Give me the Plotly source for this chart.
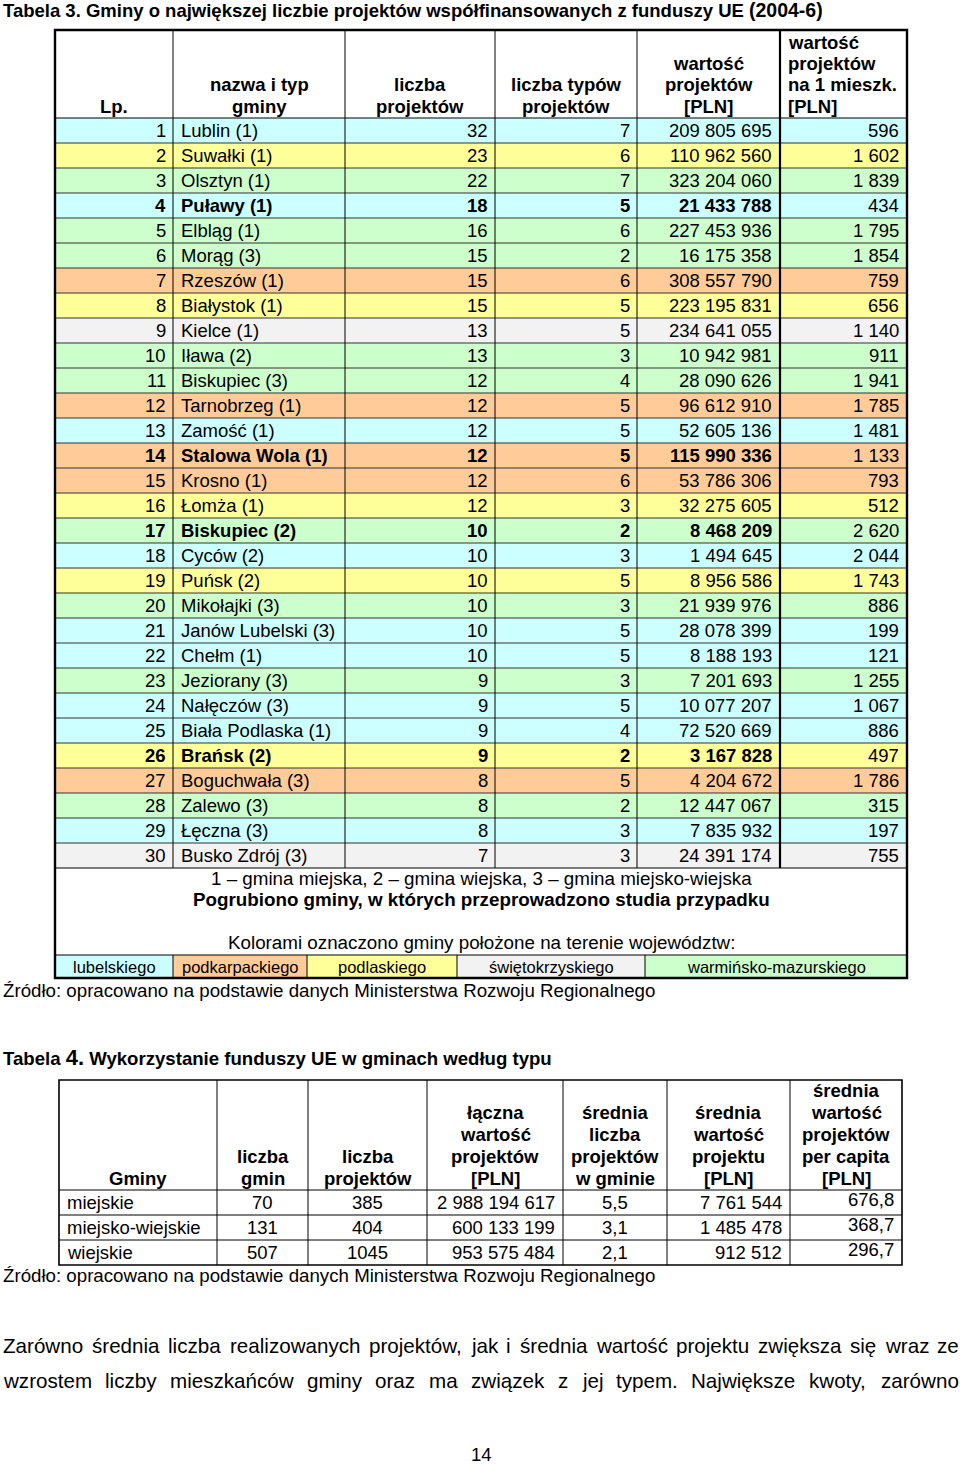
import plotly.graph_objects as go

# ======================= DATA: Tabela 3 =======================
lp = [1, 2, 3, 4, 5, 6, 7, 8, 9, 10, 11, 12, 13, 14, 15,
      16, 17, 18, 19, 20, 21, 22, 23, 24, 25, 26, 27, 28, 29, 30]
names = ["Lublin (1)", "Suwałki (1)", "Olsztyn (1)", "Puławy (1)", "Elbląg (1)",
         "Morąg (3)", "Rzeszów (1)", "Białystok (1)", "Kielce (1)", "Iława (2)",
         "Biskupiec (3)", "Tarnobrzeg (1)", "Zamość (1)", "Stalowa Wola (1)", "Krosno (1)",
         "Łomża (1)", "Biskupiec (2)", "Cyców (2)", "Puńsk (2)", "Mikołajki (3)",
         "Janów Lubelski (3)", "Chełm (1)", "Jeziorany (3)", "Nałęczów (3)", "Biała Podlaska (1)",
         "Brańsk (2)", "Boguchwała (3)", "Zalewo (3)", "Łęczna (3)", "Busko Zdrój (3)"]
n_projects = [32, 23, 22, 18, 16, 15, 15, 15, 13, 13, 12, 12, 12, 12, 12,
              12, 10, 10, 10, 10, 10, 10, 9, 9, 9, 9, 8, 8, 8, 7]
n_types = [7, 6, 7, 5, 6, 2, 6, 5, 5, 3, 4, 5, 5, 5, 6,
           3, 2, 3, 5, 3, 5, 5, 3, 5, 4, 2, 5, 2, 3, 3]
value_pln = [209805695, 110962560, 323204060, 21433788, 227453936,
             16175358, 308557790, 223195831, 234641055, 10942981,
             28090626, 96612910, 52605136, 115990336, 53786306,
             32275605, 8468209, 1494645, 8956586, 21939976,
             28078399, 8188193, 7201693, 10077207, 72520669,
             3167828, 4204672, 12447067, 7835932, 24391174]
value_per_capita = [596, 1602, 1839, 434, 1795, 1854, 759, 656, 1140, 911,
                    1941, 1785, 1481, 1133, 793, 512, 2620, 2044, 1743, 886,
                    199, 121, 1255, 1067, 886, 497, 1786, 315, 197, 755]
voivodeship = ["lub", "podl", "warm", "lub", "warm", "warm", "podk", "podl", "swie", "warm",
               "warm", "podk", "lub", "podk", "podk", "podl", "warm", "lub", "podl", "warm",
               "lub", "lub", "warm", "lub", "lub", "podl", "podk", "warm", "lub", "swie"]
case_study_lp = [4, 14, 17, 26]

header3 = [["Lp."], ["nazwa i typ", "gminy"], ["liczba", "projektów"],
           ["liczba typów", "projektów"], ["wartość", "projektów", "[PLN]"],
           ["wartość", "projektów", "na 1 mieszk.", "[PLN]"]]
legend_keys = ["lub", "podk", "podl", "swie", "warm"]
legend_labels = ["lubelskiego", "podkarpackiego", "podlaskiego", "świętokrzyskiego",
                 "warmińsko-mazurskiego"]
notes3 = ["1 – gmina miejska, 2 – gmina wiejska, 3 – gmina miejsko-wiejska",
          "Pogrubiono gminy, w których przeprowadzono studia przypadku",
          "Kolorami oznaczono gminy położone na terenie województw:"]
title3 = "Tabela 3. Gminy o największej liczbie projektów współfinansowanych z funduszy UE "
title3_years = "(2004-6)"
source_text = "Źródło: opracowano na podstawie danych Ministerstwa Rozwoju Regionalnego"

# ======================= DATA: Tabela 4 =======================
gmina_types = ["miejskie", "miejsko-wiejskie", "wiejskie"]
n_gmin = [70, 131, 507]
n_proj4 = [385, 404, 1045]
total_value = [2988194617, 600133199, 953575484]
avg_projects = ["5,5", "3,1", "2,1"]
avg_value = [7761544, 1485478, 912512]
per_capita4 = ["676,8", "368,7", "296,7"]
header4 = [["Gminy"], ["liczba", "gmin"], ["liczba", "projektów"],
           ["łączna", "wartość", "projektów", "[PLN]"],
           ["średnia", "liczba", "projektów", "w gminie"],
           ["średnia", "wartość", "projektu", "[PLN]"],
           ["średnia", "wartość", "projektów", "per capita", "[PLN]"]]
title4_a = "Tabela "
title4_num = "4."
title4_b = " Wykorzystanie funduszy UE w gminach według typu"

paragraph = ["Zarówno średnia liczba realizowanych projektów, jak i średnia wartość projektu zwiększa się wraz ze",
             "wzrostem liczby mieszkańców gminy oraz ma związek z jej typem. Największe kwoty, zarówno"]
page_number = "14"

# ======================= STYLE / GEOMETRY =======================
W, H = 960, 1465
FONT = "Liberation Sans, Arial, sans-serif"
FILL = {"lub": "#CCFFFF", "podk": "#FFCC99", "podl": "#FFFF99",
        "swie": "#F2F2F2", "warm": "#CCFFCC"}
FS = 18.5

T3_X = [55, 173, 345, 495, 637, 780, 907]
T3_TOP, T3_HEAD_B, ROW_H = 30, 118, 25
T3_BODY_B = T3_HEAD_B + ROW_H * len(lp)
LEG_X = [55, 173, 307, 457, 645, 907]
LEG_TOP, LEG_B = 955, 978
HEAD_LINE = 21.3

T4_X = [59, 217, 308, 427, 563, 667, 790, 902]
T4_TOP, T4_HEAD_B, ROW4_H = 1080, 1190, 25

shapes, ann = [], []


def fmt(v):
    return f"{v:,}".replace(",", " ")


def txt(x, y, s, size=FS, bold=False, anchor="left", yshift=0):
    ann.append(dict(x=x, y=y, xref="x", yref="y", text=(f"<b>{s}</b>" if bold else s),
                    showarrow=False, xanchor=anchor, yanchor="middle", yshift=yshift,
                    borderpad=0, font=dict(size=size, family=FONT, color="black")))


def rect(x0, y0, x1, y1, fill):
    shapes.append(dict(type="rect", x0=x0, y0=y0, x1=x1, y1=y1, xref="x", yref="y",
                       fillcolor=fill, line=dict(width=0), layer="below"))


def line(x0, y0, x1, y1, w=1, c="#1a1a1a"):
    shapes.append(dict(type="line", x0=x0, y0=y0, x1=x1, y1=y1, xref="x", yref="y",
                       line=dict(color=c, width=w)))


# ---------- Tabela 3 ----------
title_html = (f"<b>{title3}</b><b><span style='font-size:19.5px'>{title3_years}</span></b>")
ann.append(dict(x=2, y=10, xref="x", yref="y", text=title_html, showarrow=False,
                xanchor="left", yanchor="middle", borderpad=0,
                font=dict(size=18.5, family=FONT, color="black")))

for i in range(len(lp)):
    top = T3_HEAD_B + i * ROW_H
    rect(T3_X[0], top, T3_X[-1], top + ROW_H, FILL[voivodeship[i]])

for j, lines_ in enumerate(header3):
    n = len(lines_)
    for k, s in enumerate(lines_):
        y = T3_HEAD_B - 12 - (n - 1 - k) * HEAD_LINE
        if j == len(header3) - 1:
            txt(T3_X[j] + 7, y, s, bold=True, anchor="left")
        else:
            txt((T3_X[j] + T3_X[j + 1]) / 2, y, s, bold=True, anchor="center")

for i in range(len(lp)):
    yc = T3_HEAD_B + i * ROW_H + ROW_H / 2
    b = lp[i] in case_study_lp
    txt(T3_X[1] - 6, yc, str(lp[i]), bold=b, anchor="right")
    txt(T3_X[1] + 7, yc, names[i], bold=b, anchor="left")
    txt(T3_X[3] - 6, yc, str(n_projects[i]), bold=b, anchor="right")
    txt(T3_X[4] - 6, yc, str(n_types[i]), bold=b, anchor="right")
    txt(T3_X[5] - 7, yc, fmt(value_pln[i]), bold=b, anchor="right")
    txt(T3_X[6] - 7, yc, fmt(value_per_capita[i]), anchor="right")

# grid lines
line(T3_X[0], T3_HEAD_B, T3_X[-1], T3_HEAD_B, 1.2, "black")
for i in range(1, len(lp)):
    y = T3_HEAD_B + i * ROW_H
    line(T3_X[0], y, T3_X[-1], y, 1, "#333333")
line(T3_X[0], T3_BODY_B, T3_X[-1], T3_BODY_B, 1.2, "black")
for j in range(1, len(T3_X) - 1):
    line(T3_X[j], T3_TOP, T3_X[j], T3_BODY_B, 2.2 if j == 5 else 1, "black")

# notes & legend
note_y = [878, 899, 942]
for k, s in enumerate(notes3):
    txt((T3_X[0] + T3_X[-1]) / 2, note_y[k], s, size=18.8, bold=(k == 1), anchor="center")
for k, key in enumerate(legend_keys):
    rect(LEG_X[k], LEG_TOP, LEG_X[k + 1], LEG_B, FILL[key])
    txt((LEG_X[k] + LEG_X[k + 1]) / 2, (LEG_TOP + LEG_B) / 2, legend_labels[k],
        size=16.5, anchor="center")
    if k > 0:
        line(LEG_X[k], LEG_TOP, LEG_X[k], LEG_B, 1, "black")
line(LEG_X[0], LEG_TOP, LEG_X[-1], LEG_TOP, 1, "black")
shapes.append(dict(type="rect", x0=T3_X[0], y0=T3_TOP, x1=T3_X[-1], y1=LEG_B,
                   xref="x", yref="y", line=dict(color="black", width=2.4)))
txt(2, 990, source_text, size=18.7)

# ---------- Tabela 4 ----------
ann.append(dict(x=2, y=1057, xref="x", yref="y",
                text=f"<b>{title4_a}<span style='font-size:22px'>{title4_num}</span>{title4_b}</b>",
                showarrow=False, xanchor="left", yanchor="middle", borderpad=0,
                font=dict(size=18.6, family=FONT, color="black")))

for j, lines_ in enumerate(header4):
    n = len(lines_)
    for k, s in enumerate(lines_):
        y = T4_HEAD_B - 12 - (n - 1 - k) * 21.8
        txt((T4_X[j] + T4_X[j + 1]) / 2, y, s, bold=True, anchor="center")

for i in range(len(gmina_types)):
    yc = T4_HEAD_B + i * ROW4_H + ROW4_H / 2
    txt(T4_X[0] + 7, yc, gmina_types[i], anchor="left")
    txt((T4_X[1] + T4_X[2]) / 2, yc, str(n_gmin[i]), anchor="center")
    txt((T4_X[2] + T4_X[3]) / 2, yc, str(n_proj4[i]), anchor="center")
    txt(T4_X[4] - 7, yc, fmt(total_value[i]), anchor="right")
    txt((T4_X[4] + T4_X[5]) / 2, yc, avg_projects[i], anchor="center")
    txt(T4_X[6] - 7, yc, fmt(avg_value[i]), anchor="right")
    txt(T4_X[7] - 7, yc, per_capita4[i], anchor="right", yshift=3)

line(T4_X[0], T4_HEAD_B, T4_X[-1], T4_HEAD_B, 1.2, "black")
for i in range(1, len(gmina_types)):
    y = T4_HEAD_B + i * ROW4_H
    line(T4_X[0], y, T4_X[-1], y, 1, "black")
T4_B = T4_HEAD_B + ROW4_H * len(gmina_types)
for j in range(1, len(T4_X) - 1):
    line(T4_X[j], T4_TOP, T4_X[j], T4_B, 1, "black")
shapes.append(dict(type="rect", x0=T4_X[0], y0=T4_TOP, x1=T4_X[-1], y1=T4_B,
                   xref="x", yref="y", line=dict(color="black", width=1.6)))
txt(2, 1275, source_text, size=18.7)

# ---------- justified paragraph ----------
AW = {" ": 278, ",": 278, ".": 278, "a": 556, "b": 556, "c": 500, "d": 556, "e": 556,
      "f": 278, "g": 556, "h": 556, "i": 222, "j": 222, "k": 500, "l": 222, "m": 833,
      "n": 556, "o": 556, "p": 556, "q": 556, "r": 333, "s": 500, "t": 278, "u": 556,
      "v": 500, "w": 722, "x": 500, "y": 500, "z": 500, "N": 722, "Z": 611,
      "ó": 556, "ś": 500, "ą": 556, "ę": 556, "ć": 500, "ń": 556, "ż": 500, "ź": 500, "ł": 222}
PFS = 20.6
P_LEFT, P_RIGHT = 2, 958
para_y = [1345, 1380]
for li, s in enumerate(paragraph):
    words = s.split(" ")
    widths = [sum(AW.get(ch, 556) for ch in w) / 1000 * PFS for w in words]
    gap = (P_RIGHT - P_LEFT - sum(widths)) / (len(words) - 1)
    x = P_LEFT
    for w, wd in zip(words, widths):
        txt(x, para_y[li], w, size=PFS, anchor="left")
        x += wd + gap

txt(481, 1454, page_number, size=18.5, anchor="center")

fig = go.Figure()
fig.update_layout(
    width=W, height=H, autosize=False,
    margin=dict(l=0, r=0, t=0, b=0, pad=0),
    paper_bgcolor="white", plot_bgcolor="white",
    xaxis=dict(range=[0, W], visible=False, fixedrange=True),
    yaxis=dict(range=[H, 0], visible=False, fixedrange=True),
    shapes=shapes, annotations=ann, showlegend=False,
)
fig.write_html("out.html", config={"displayModeBar": False},
               post_script="document.body.style.margin='0';document.body.style.overflow='hidden';")
